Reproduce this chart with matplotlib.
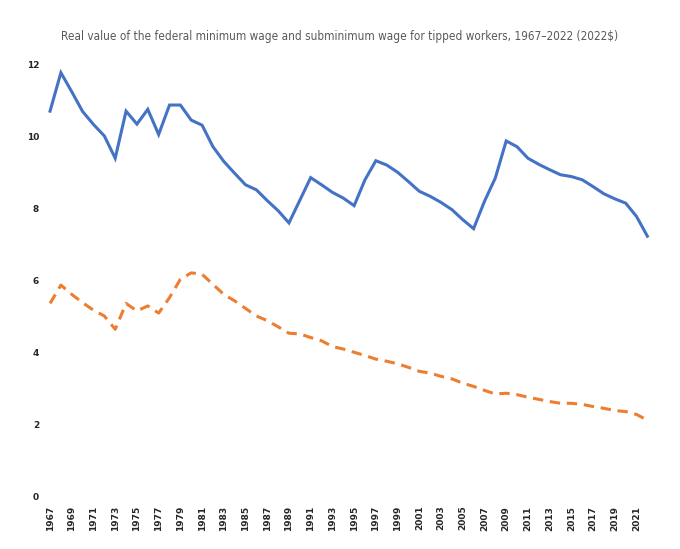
import matplotlib
matplotlib.use("Agg")
import matplotlib.pyplot as plt

# federal minimum wage and tipped subminimum wage, 2022 dollars
years = list(range(1967, 2023))
min_wage = [10.71, 11.78, 11.25, 10.70, 10.34, 10.02, 9.40, 10.71, 10.35, 10.76,
            10.06, 10.88, 10.88, 10.46, 10.32, 9.72, 9.31, 8.98, 8.66, 8.52,
            8.22, 7.94, 7.60, 8.23, 8.86, 8.66, 8.45, 8.29, 8.08, 8.80,
            9.33, 9.21, 9.01, 8.75, 8.48, 8.34, 8.17, 7.97, 7.69, 7.44,
            8.20, 8.85, 9.88, 9.72, 9.40, 9.23, 9.08, 8.94, 8.89, 8.80,
            8.61, 8.41, 8.27, 8.15, 7.78, 7.23]
tipped_wage = [5.36, 5.87, 5.61, 5.38, 5.17, 5.01, 4.64, 5.36, 5.15, 5.29,
               5.09, 5.52, 6.03, 6.21, 6.17, 5.89, 5.61, 5.43, 5.22, 5.01,
               4.88, 4.71, 4.53, 4.51, 4.41, 4.32, 4.16, 4.09, 4.00, 3.91,
               3.81, 3.75, 3.68, 3.58, 3.47, 3.42, 3.33, 3.26, 3.14, 3.05,
               2.94, 2.84, 2.86, 2.82, 2.75, 2.69, 2.63, 2.58, 2.58, 2.55,
               2.49, 2.44, 2.38, 2.35, 2.27, 2.11]
yticks = [0, 2, 4, 6, 8, 10, 12]
title = "Real value of the federal minimum wage and subminimum wage for tipped workers, 1967\u20132022 (2022$)"

fig = plt.figure(figsize=(6.8, 5.49), dpi=100)
ax = fig.add_axes([0.0656, 0.0965, 0.8944, 0.7855])

ax.plot(years, min_wage, color="#4472C4", lw=2.2, solid_joinstyle="miter")
ax.plot(years, tipped_wage, color="#ED7D31", lw=2.2, linestyle=(0, (3.4, 2.2)))

ax.set_xlim(1966.5, 2022.5)
ax.set_ylim(0, 12)
ax.set_xticks(years[::2])
ax.set_xticklabels([str(y) for y in years[::2]], rotation=90, fontsize=6.5,
                   fontweight="bold", color="#262626")
ax.set_yticks(yticks)
ax.set_yticklabels([str(v) for v in yticks], fontsize=6.5, fontweight="bold",
                   color="#262626")
ax.tick_params(length=0, pad=4)
ax.tick_params(axis="x", pad=7)
for s in ax.spines.values():
    s.set_visible(False)

fig.text(0.5, 0.934, title, ha="center", va="center", fontsize=8.5,
         color="#595959", family="DejaVu Sans", stretch="condensed")

fig.savefig("out.png", dpi=100)
